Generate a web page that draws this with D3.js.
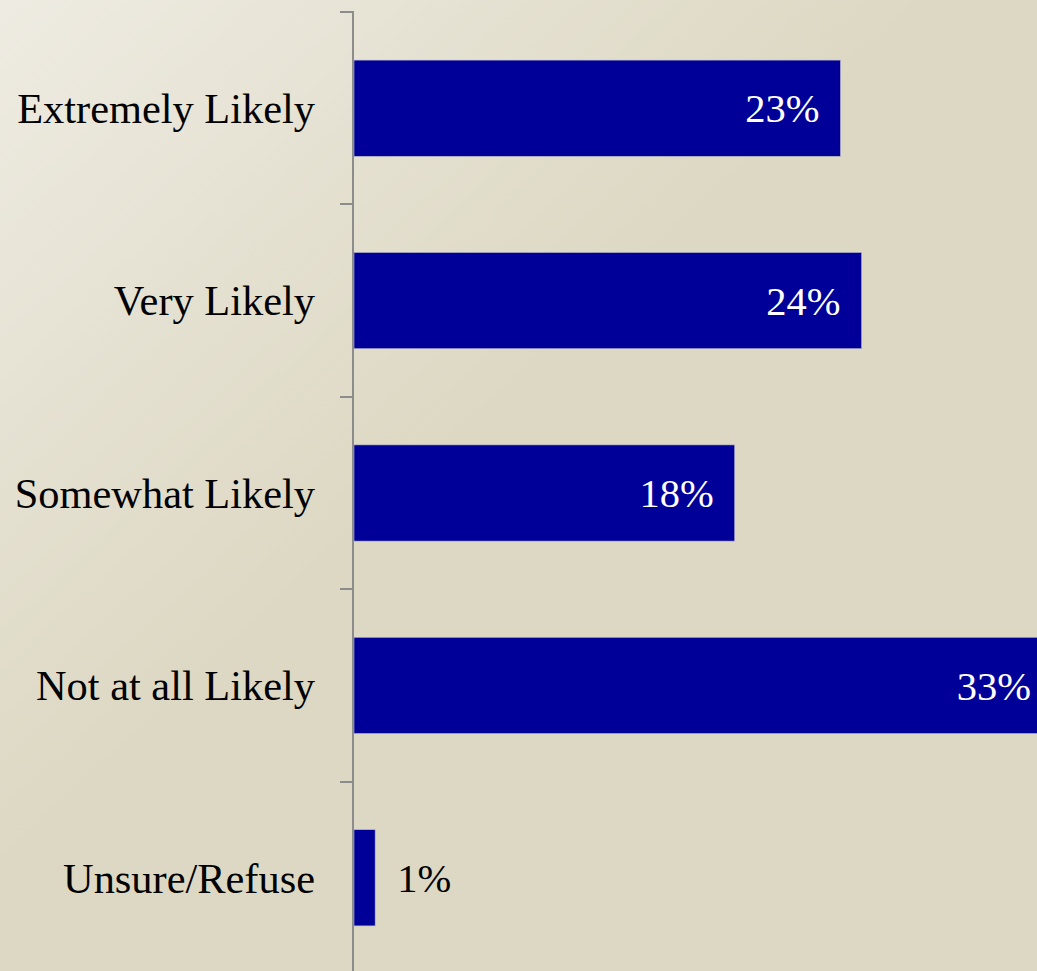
<!DOCTYPE html>
<html>
<head>
<meta charset="utf-8">
<script src="https://cdn.jsdelivr.net/npm/d3@7"></script>
<style>
  html, body { margin: 0; padding: 0; overflow: hidden; }
  svg { display: block; }
</style>
</head>
<body>
<div class="chart"></div>
<script>
// Data.
let categories = ['Extremely Likely', 'Very Likely', 'Somewhat Likely', 'Not at all Likely', 'Unsure/Refuse'];
let values = [23, 24, 18, 33, 1];

// Build constants.
let width = 1037,
    height = 971,
    axisX = 353,
    pxPerPct = 21.15,
    catFontSize = 42.4,
    valueFontSize = 40.5;

let svg = d3.select('.chart')
    .append('svg')
        .attr('width', width)
        .attr('height', height);

// Background gradient.
let defs = svg.append('defs');
let grad = defs.append('linearGradient')
    .attr('id', 'bg')
    .attr('x1', '0%').attr('y1', '0%')
    .attr('x2', '45%').attr('y2', '45%');
grad.append('stop').attr('offset', '0%').attr('stop-color', '#eeebe2');
grad.append('stop').attr('offset', '100%').attr('stop-color', '#ddd8c3');

svg.append('rect')
    .attr('width', width)
    .attr('height', height)
    .attr('fill', 'url(#bg)');

// Scales.
let y = d3.scaleBand()
    .domain(categories)
    .range([12, 12 + 192.4 * categories.length])
    .paddingInner(0.5)
    .paddingOuter(0.25);

let x = d3.scaleLinear()
    .domain([0, 35])
    .range([axisX + 1, axisX + 1 + 35 * pxPerPct]);

// Bars.
svg.selectAll('rect.bar')
    .data(values)
    .join('rect')
        .attr('class', 'bar')
        .attr('x', x(0))
        .attr('y', (d, i) => y(categories[i]))
        .attr('width', d => x(d) - x(0))
        .attr('height', y.bandwidth())
        .attr('fill', '#000099')
        .attr('stroke', '#b8b8c8')
        .attr('stroke-width', 0.6);

// Value labels.
svg.selectAll('text.value')
    .data(values)
    .join('text')
        .attr('class', 'value')
        .attr('x', d => d < 5 ? x(d) + 22 : x(d) - 21)
        .attr('y', (d, i) => y(categories[i]) + y.bandwidth() / 2)
        .attr('dy', '0.35em')
        .attr('text-anchor', d => d < 5 ? 'start' : 'end')
        .attr('font-family', '"Liberation Serif", "Times New Roman", serif')
        .attr('font-size', valueFontSize)
        .attr('fill', d => d < 5 ? '#000' : '#fff')
        .text(d => d + '%');

// Axis line and ticks (between bands).
let axis = svg.append('g').attr('stroke', '#8c8c8c').attr('stroke-width', 2);
axis.append('line')
    .attr('x1', axisX).attr('x2', axisX)
    .attr('y1', 11).attr('y2', height);

let step = y.step();
d3.range(categories.length + 1).forEach(i => {
    let ty = Math.round(12 + i * step);
    axis.append('line')
        .attr('x1', axisX - 13).attr('x2', axisX)
        .attr('y1', ty).attr('y2', ty);
});

// Category labels.
svg.selectAll('text.cat')
    .data(categories)
    .join('text')
        .attr('class', 'cat')
        .attr('x', 315)
        .attr('y', d => y(d) + y.bandwidth() / 2)
        .attr('dy', '0.35em')
        .attr('text-anchor', 'end')
        .attr('font-family', '"Liberation Serif", "Times New Roman", serif')
        .attr('font-size', catFontSize)
        .attr('fill', '#000')
        .text(d => d);
</script>
</body>
</html>
